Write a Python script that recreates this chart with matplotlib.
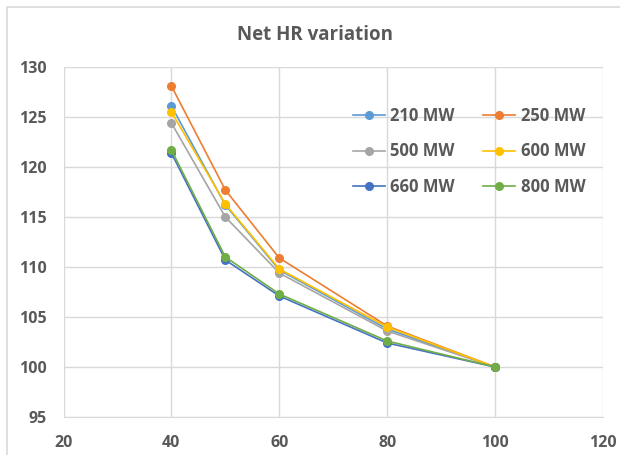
import matplotlib
matplotlib.use('Agg')
import matplotlib.pyplot as plt
from matplotlib.patches import Rectangle

# load (%) on x, net heat rate variation on y
load = [40, 50, 60, 80, 100]
hr_210 = [126.1, 116.2, 109.7, 103.8, 100.0]
hr_250 = [128.1, 117.7, 110.9, 104.1, 100.0]
hr_500 = [124.4, 115.0, 109.4, 103.6, 100.0]
hr_600 = [125.5, 116.3, 109.8, 104.0, 100.0]
hr_660 = [121.4, 110.7, 107.1, 102.4, 100.0]
hr_800 = [121.7, 111.0, 107.3, 102.6, 100.0]
labels = ['210 MW', '250 MW', '500 MW', '600 MW', '660 MW', '800 MW']
colors = ['#5B9BD5', '#ED7D31', '#A5A5A5', '#FFC000', '#4472C4', '#70AD47']
x_ticks = [20, 40, 60, 80, 100, 120]
y_ticks = [95, 100, 105, 110, 115, 120, 125, 130]

plt.rcParams['font.family'] = ['Open Sans', 'DejaVu Sans']
txt = '#595959'

fig = plt.figure(figsize=(6.2, 4.55), dpi=100)
# chart frame (only left/top edges visible, rest cropped)
fig.patches.append(Rectangle((7 / 620, -0.05), 1.1, 1 - 7 / 455 + 0.05,
                             transform=fig.transFigure, fill=False,
                             edgecolor='#D9D9D9', linewidth=1.2))
ax = fig.add_axes([63.5 / 620, 1 - 417 / 455, 539.5 / 620, 350 / 455])

series = [hr_210, hr_250, hr_500, hr_600, hr_660, hr_800]
lines = []
for s, lab, c in zip(series, labels, colors):
    ln, = ax.plot(load, s, color=c, marker='o', markersize=5.5, linewidth=1.2,
                  label=lab, zorder=3)
    lines.append(ln)

ax.set_xlim(20, 120)
ax.set_ylim(95, 130)
ax.set_xticks(x_ticks)
ax.set_yticks(y_ticks)
ax.grid(True, color='#D9D9D9', linewidth=1)
ax.set_axisbelow(True)
for sp in ['top', 'right', 'left']:
    ax.spines[sp].set_visible(False)
ax.spines['bottom'].set_color('#D9D9D9')
ax.tick_params(length=0, labelsize=11.5, labelcolor=txt)
ax.tick_params(axis='y', pad=12)
ax.tick_params(axis='x', pad=13)
for t in ax.get_xticklabels() + ax.get_yticklabels():
    t.set_fontweight('bold')

fig.text(315 / 620, 1 - 35 / 455, 'Net HR variation', ha='center', va='center',
         fontsize=13.5, fontweight='bold', color=txt)

# legend filled row by row like Excel
order = [0, 2, 4, 1, 3, 5]
leg = ax.legend([lines[i] for i in order], [labels[i] for i in order],
                ncol=2, loc='upper left',
                bbox_to_anchor=(338 / 620, 1 - 92 / 455),
                bbox_transform=fig.transFigure, frameon=False,
                prop={'size': 12, 'weight': 'bold'}, labelcolor=txt,
                handlelength=1.9, handletextpad=0.35, columnspacing=1.7,
                labelspacing=1.05)

fig.savefig('out.png', dpi=100, facecolor='white')
